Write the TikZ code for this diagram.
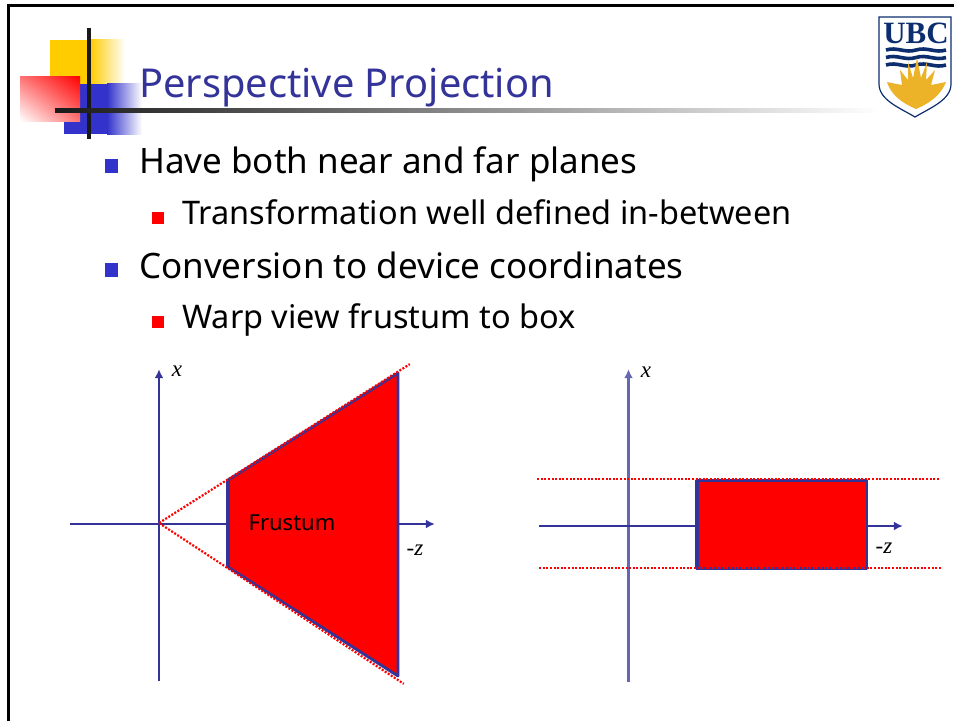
\documentclass[tikz,border=0pt]{standalone}
\usepackage{fontspec}
\setmainfont{Liberation Serif}
\setsansfont{Noto Sans}
\usetikzlibrary{arrows.meta,calc,shadings}
\definecolor{slideBlue}{RGB}{51,51,153}
\definecolor{bulletBlue}{RGB}{51,51,204}
\definecolor{sunGold}{RGB}{236,178,40}
\definecolor{crestBlue}{RGB}{12,45,110}
\definecolor{markYellow}{RGB}{255,204,0}
\begin{document}
\begin{tikzpicture}
[x=1pt,y=-1pt,
axis/.style={draw=slideBlue,line width=2.4pt,-{Latex[length=9pt,width=9pt]}},
lightAxis/.style={draw=slideBlue!75,line width=2.4pt},
frustumEdge/.style={draw=slideBlue,line width=2.8pt,fill=red,line join=round},
nearEdge/.style={draw=slideBlue,line width=4pt},
extent/.style={draw=red,line width=2.2pt,dash pattern=on 2pt off 1.6pt},
axisLabel/.style={font=\itshape\fontsize{23}{23}\selectfont,inner sep=0pt},
corner/.style={inner sep=0pt,minimum size=0pt},
titleLabel/.style={font=\sffamily\fontsize{39.8}{39.8}\selectfont,text=slideBlue,anchor=base west,inner sep=0pt},
bigLabel/.style={font=\sffamily\fontsize{35}{35}\selectfont,anchor=base west,inner sep=0pt},
smallLabel/.style={font=\sffamily\fontsize{32.5}{32.5}\selectfont,anchor=base west,inner sep=0pt},
]
\useasboundingbox (0,0) rectangle (954,721);
% slide frame
\draw[line width=3.4pt] (8.5,721) -- (8.5,5.5) -- (954,5.5);
% title mark
\fill[markYellow] (50,40) rectangle (90,84);
\shade[left color=markYellow,right color=white] (90,39) rectangle (125,84);
\fill[bulletBlue] (64,84) rectangle (107,134);
\shade[left color=bulletBlue,right color=white] (107,83) rectangle (142,134);
\shade[lower left=white,upper right=red,upper left=white!45!red,lower right=white!45!red] (20,76) rectangle (80,121);
\fill[black!90] (87,28) rectangle (91,139);
\shade[left color=black!90,right color=white] (55,108) rectangle (880,112);
% crest
\draw[crestBlue,line width=1.2pt,fill=white] (879,17) -- (951,17) -- (951,84)
  .. controls (951,100) and (930,108) .. (915,117) .. controls (900,108) and (879,100) .. (879,84) -- cycle;
\node[font=\rmfamily\bfseries\fontsize{31}{31}\selectfont,text=crestBlue,inner sep=0pt,anchor=base] (crestName) at (916,43) {UBC};
\foreach \y in {50,57.5,65}
  \draw[crestBlue,line width=3.6pt] (886,\y) .. controls (897,\y-3.5) and (905,\y+3.5) .. (916,\y) .. controls (927,\y-3.5) and (935,\y+3.5) .. (946,\y);
\fill[sunGold] (887,82) -- (902,85) -- (900,70) -- (908,80) -- (908,62) -- (913,78) -- (917,58) -- (921,78) -- (927,62) -- (926,80) -- (935,70) -- (931,85) -- (946,82)
  .. controls (941,95) and (930,103) .. (916,109) .. controls (902,103) and (891,95) .. (887,82) -- cycle;
% text
\node[titleLabel] (title) at (139,97) {Perspective Projection};
\node[bigLabel] (near) at (139,173) {Have both near and far planes};
\node[smallLabel] (well) at (182,224) {Transformation well defined in-between};
\node[bigLabel] (device) at (139,278) {Conversion to device coordinates};
\node[smallLabel] (warp) at (182,328) {Warp view frustum to box};
\fill[bulletBlue] (105,159) rectangle (118,173);
\fill[red] (152,212) rectangle (164,224);
\fill[bulletBlue] (105,263) rectangle (118,277);
\fill[red] (152,316) rectangle (164,328);
% left axes
\node[corner] (xLow) at (159,681) {};
\node[corner] (xHigh) at (159,369) {};
\node[corner] (zLow) at (70,524) {};
\node[corner] (zHigh) at (435,524) {};
\node[corner] (eye) at (159,523) {};
\node[corner] (rayTop) at (410,364) {};
\node[corner] (rayBottom) at (404,684) {};
\node[corner] (a) at (228,480) {};
\node[corner] (b) at (398,373) {};
\node[corner] (c) at (398,676) {};
\node[corner] (d) at (228,567) {};
\draw[axis] (xLow) -- (xHigh);
\draw[axis] (zLow) -- (zHigh);
\draw[frustumEdge] (a.center) -- (b.center) -- (c.center) -- (d.center) -- cycle;
\draw[nearEdge] (a) -- (d);
\draw[extent] (eye) -- (rayTop);
\draw[extent] (eye) -- (rayBottom);
\node[axisLabel] (xLeft) at (177,371) {x};
\node[axisLabel] (zLeft) at (415,550) {-z};
\node[font=\sffamily\fontsize{22}{22}\selectfont,inner sep=0pt] (frustum) at (292,523) {Frustum};
% right axes
\node[corner] (xLow2) at (628.5,682) {};
\node[corner] (xHigh2) at (628.5,369) {};
\node[corner] (zLow2) at (539,526) {};
\node[corner] (zHigh2) at (903,526) {};
\node[corner] (e) at (696.5,480.5) {};
\node[corner] (f) at (867,480.5) {};
\node[corner] (g) at (867,568.5) {};
\node[corner] (h) at (696.5,568.5) {};
\node[corner] (topStart) at (537,479) {};
\node[corner] (topEnd) at (939,479) {};
\node[corner] (bottomStart) at (539,568) {};
\node[corner] (bottomEnd) at (941,568) {};
\draw[axis,lightAxis] (xLow2) -- (xHigh2);
\draw[axis] (zLow2) -- (zHigh2);
\draw[frustumEdge] (e.center) -- (f.center) -- (g.center) -- (h.center) -- cycle;
\draw[nearEdge] (e) -- (h);
\draw[extent] (topStart) -- (topEnd);
\draw[extent] (bottomStart) -- (bottomEnd);
\node[axisLabel] (xRight) at (646,372) {x};
\node[axisLabel] (zRight) at (884,548) {-z};
\end{tikzpicture}
\end{document}
